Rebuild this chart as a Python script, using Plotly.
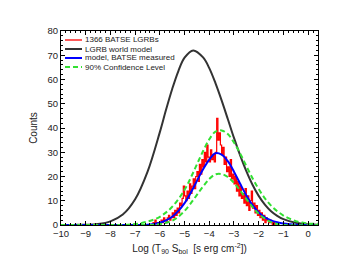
import plotly.graph_objects as go

# ---- data ----
world_x = [-10, -9.5, -9, -8.5, -8, -7.5, -7, -6.5, -6, -5.75, -5.5, -5.25, -5, -4.65, -4.25, -4, -3.75, -3.5, -3.25, -3, -2.75, -2.5, -2.25, -2, -1.75, -1.5, -1.25, -1, -0.5, 0, 0.4]
world_y = [0.0, 0.05, 0.1, 0.4, 1.5, 4.3, 10.6, 21.9, 38.3, 47.5, 56.1, 63.5, 69.0, 72.0, 69.1, 64.7, 58.5, 51.4, 43.7, 35.9, 28.7, 22.2, 16.6, 12.0, 8.4, 5.7, 3.8, 2.4, 0.9, 0.3, 0.1]

blue_x = [-10, -7, -6.5, -6.25, -6, -5.75, -5.5, -5.25, -5, -4.75, -4.5, -4.25, -4, -3.75, -3.5, -3.25, -3, -2.75, -2.5, -2.25, -2, -1.75, -1.5, -1.25, -1, -0.75, -0.5, 0, 0.4]
blue_y = [0, 0, 0.1, 0.4, 0.9, 1.9, 3.4, 5.8, 9.0, 13.3, 18.2, 23.0, 27.0, 29.6, 29.0, 26.3, 22.0, 17.0, 12.2, 8.2, 5.2, 3.2, 1.9, 1.1, 0.6, 0.3, 0.1, 0, 0]

up_x = [-10, -7.5, -7, -6.5, -6, -5.5, -5, -4.75, -4.5, -4.25, -4, -3.75, -3.5, -3.25, -3, -2.75, -2.5, -2.25, -2, -1.75, -1.5, -1.25, -1, -0.75, -0.5, -0.25, 0, 0.4]
up_y = [0, 0, 0.4, 1.4, 3.4, 7.5, 14.5, 19.5, 25.0, 30.5, 35.3, 38.5, 39.0, 37.5, 34.0, 29.5, 24.3, 19.3, 14.8, 11.0, 8.0, 5.7, 3.9, 2.6, 1.6, 1.0, 0.6, 0.5]

lo_x = [-10, -6.5, -6.25, -6, -5.75, -5.5, -5.25, -5, -4.75, -4.5, -4.25, -4, -3.75, -3.5, -3.25, -3, -2.75, -2.5, -2.25, -2, -1.75, -1.5, -1.25, -1, 0.4]
lo_y = [0, 0, 0.1, 0.4, 0.9, 1.8, 3.4, 5.8, 8.9, 12.4, 15.9, 19.0, 20.9, 21.0, 19.8, 17.4, 14.2, 10.7, 7.4, 4.6, 2.6, 1.2, 0.4, 0.0, 0]

hist_start = -6.30
hist_width = 0.05
hist_counts = [1, 0, 2, 1, 0, 1,
               1, 2, 1, 3, 2, 1, 3, 4, 2, 3,
               5, 3, 6, 4, 7, 5, 9, 8, 11, 16,
               12, 10, 14, 11, 17, 13, 16, 19, 15, 20,
               22, 18, 25, 21, 27, 24, 30, 26, 33, 28,
               26, 31, 27, 29, 26, 30, 44, 35, 38, 33,
               29, 32, 25, 28, 22, 24, 20, 27, 19, 21,
               17, 20, 14, 18, 12, 16, 11, 13, 9, 15,
               8, 12, 6, 10, 14, 7, 9, 5, 8, 4,
               6, 3, 5, 2, 4, 1, 3, 2, 1, 2,
               1, 0, 1, 0]

legend_labels = ["1366 BATSE LGRBs", "LGRB world model", "model, BATSE measured", "90% Confidence Level"]
legend_colors = ["#ff5a5a", "#333333", "#0000ff", "#33e033"]
legend_dash = ["solid", "solid", "solid", "5px,3px"]

x_title = "Log (T<sub>90</sub> S<sub>bol</sub>  [s erg cm<sup>-2</sup>])"
y_title = "Counts"

# ---- figure ----
hx = [hist_start + i * hist_width for i in range(len(hist_counts) + 1)]
hy = hist_counts + [hist_counts[-1]]

GREEN = "#33e033"
fig = go.Figure()
fig.add_trace(go.Scatter(x=hx, y=hy, mode="lines", line=dict(color="#ff0000", width=1.2, shape="hv")))
fig.add_trace(go.Scatter(x=world_x, y=world_y, mode="lines", line=dict(color="#333333", width=2, shape="spline")))
fig.add_trace(go.Scatter(x=blue_x, y=blue_y, mode="lines", line=dict(color="#0000ff", width=2, shape="spline")))
fig.add_trace(go.Scatter(x=up_x, y=up_y, mode="lines", line=dict(color=GREEN, width=2, dash="5px,3px", shape="spline")))
fig.add_trace(go.Scatter(x=lo_x, y=lo_y, mode="lines", line=dict(color=GREEN, width=2, dash="5px,3px", shape="spline")))

# page has an 8px body margin; compensate so the plot box lands at the reference position
OFF = 8
W, H = 341 - OFF, 264 - OFF
L, R, T, B = 61 - OFF, 23, 31 - OFF, 39
pw, ph = W - L - R, H - T - B

def px(xp):
    return (xp - OFF - L) / pw

def py(yp):
    return (H - B - (yp - OFF)) / ph

for i, (lab, col, dsh) in enumerate(zip(legend_labels, legend_colors, legend_dash)):
    yy = 40 + 9 * i
    fig.add_shape(type="line", xref="paper", yref="paper", x0=px(65), x1=px(82), y0=py(yy), y1=py(yy),
                  line=dict(color=col, width=2, dash=dsh))
    fig.add_annotation(xref="paper", yref="paper", x=px(83), y=py(yy), text=lab, showarrow=False,
                       xanchor="left", yanchor="middle", font=dict(size=8, color="#222"))

axis_common = dict(showline=True, linecolor="black", linewidth=1, mirror="allticks", ticks="inside",
                   ticklen=4, tickcolor="black", showgrid=False, zeroline=False,
                   tickfont=dict(size=9.5, color="#222"))
fig.update_xaxes(range=[-10, 0.4], dtick=1, tick0=0,
                 minor=dict(dtick=0.2, ticks="inside", ticklen=2, tickcolor="black"),
                 title=dict(text=x_title, font=dict(size=10, color="#222"), standoff=6),
                 **axis_common)
fig.update_yaxes(range=[0, 80], dtick=10,
                 minor=dict(dtick=2, ticks="inside", ticklen=2, tickcolor="black"),
                 title=dict(text=y_title, font=dict(size=10, color="#222"), standoff=8),
                 **axis_common)
fig.update_layout(width=W, height=H, margin=dict(l=L, r=R, t=T, b=B, autoexpand=False), showlegend=False,
                  plot_bgcolor="white", paper_bgcolor="white",
                  font=dict(family="Liberation Sans, Arial, sans-serif"))
fig.write_html("out.html")
